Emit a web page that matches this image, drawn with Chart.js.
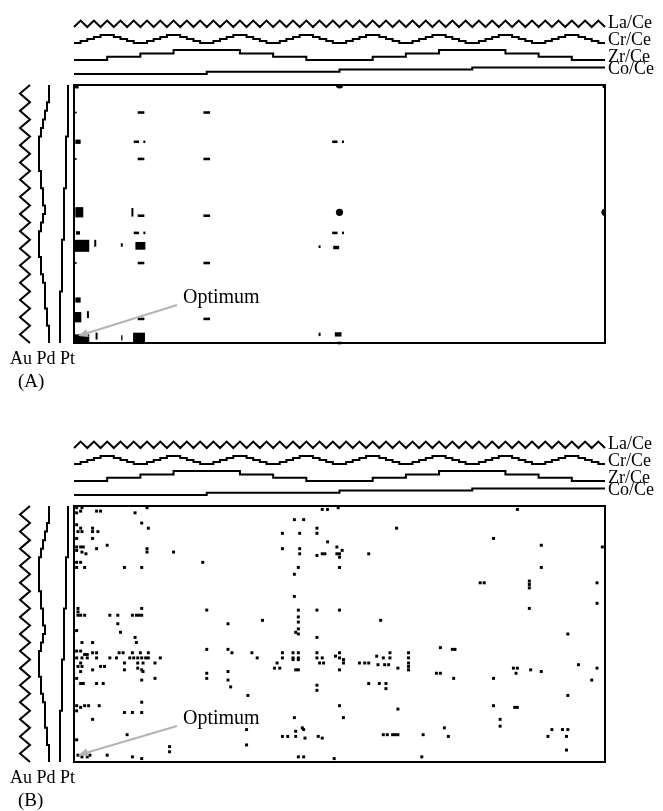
<!DOCTYPE html>
<html>
<head>
<meta charset="utf-8">
<script src="https://cdn.jsdelivr.net/npm/chart.js@4/dist/chart.umd.min.js"></script>
<style>
  body { margin: 0; background: #fff; }
  #wrap { position: relative; width: 663px; height: 811px; }
  canvas { position: absolute; left: 0; }
</style>
</head>
<body>
<div id="wrap">
  <canvas id="panelA" width="663" height="421" style="top:0"></canvas>
  <canvas id="panelB" width="663" height="390" style="top:421px"></canvas>
</div>
<script>
// grid size: columns = Co x Zr x Cr x La, rows = Pt x Pd x Au
const NCOL = 400;
const NROW = 150;

// composition levels along the top (one value per block)
const coLevels = [0, 1, 2, 3];
const zrLevels = [0, 1, 2, 3, 3, 2, 1, 0, 0, 1, 2, 3, 3, 2, 1, 0];
const crLevels = '01234432100123443210012344321001234432100123443210012344321001234432100123443210'.split('').map(Number);
const laTurns = '040404040404040404040404040404040404040404040404040404040404040404040404040404040'.split('').map(Number);

// composition levels down the left side
const ptLevels = [4, 3, 2, 1, 0];
const pdLevels = [5, 5, 4, 3, 2, 1, 0, 0, 0, 0, 1, 1, 2, 2, 3, 2, 1, 0, 0, 0, 1, 1, 2, 3, 3, 3, 4, 4, 5, 5];
const auTurns = '4040404040404040404040404040404'.split('').map(Number);

// panel A: hits as [col, row, width in cols, height in rows]
const hitsA = [
  [2, 1, 3, 2], [1, 16, 2, 1], [50.5, 16, 5, 1.5], [100, 16, 5, 1.5],
  [3, 33, 4, 2.5], [47, 33, 4, 1.5], [53, 33, 1.5, 1.5],
  [1, 43, 2, 1], [50.5, 43, 5, 1.5], [100, 43, 5, 1.5],
  [4, 74, 6, 6], [44, 74, 1.5, 5], [50.5, 76, 5, 1.5], [100, 76, 5, 1.5],
  [3, 86, 3, 2], [47, 86, 4, 1.5], [53, 86, 1.5, 1.5],
  [6, 93.5, 11, 7], [16, 92, 1.5, 4], [36, 93, 1.5, 2], [50, 93.5, 7.5, 4.5], [185, 94, 1.5, 1.5],
  [1, 103.5, 2, 1], [50.5, 103.5, 5, 1.5], [100, 103.5, 5, 1.5],
  [3, 125, 4, 3], [3, 135, 5, 6], [10.5, 133.5, 1.5, 4], [50.5, 136, 5, 1.5], [100, 136, 5, 1.5],
  [6, 147.5, 11, 5], [17, 146, 1.5, 4], [36, 147, 1, 3], [49, 147, 9, 6], [185, 145, 1.5, 2],
  [196.5, 33, 4, 1.5], [202.6, 33, 1.5, 1.5], [196.5, 86, 4, 1.5], [202.6, 86, 1.5, 1.5],
  [197.5, 94.5, 4.5, 2], [199, 145, 5, 2.5], [200, 150, 3, 1.5], [399, 1, 1.5, 1.5]
];
// panel A: round spots [col, row]
const spotsA = [[200, 74], [400, 74], [200, 0]];

// panel B: hits [col, row]
const hitsB = [
  [2, 1], [2, 4], [6, 1], [5, 3], [17, 3], [20, 3], [46, 4], [55, 1], [51, 10], [56, 13],
  [2, 11], [5, 13], [3, 15], [6, 15], [2, 19], [14, 13], [14, 15], [18, 15], [14, 19],
  [2, 24], [5, 24], [7, 24], [2, 26], [6, 27], [9, 28], [17, 25], [25, 23], [55, 25], [55, 27], [75, 27],
  [2, 33], [5, 33], [8, 36], [2, 36], [38, 36], [51, 36], [97, 33],
  [157, 16], [166, 8], [173, 8], [170, 16], [183, 13], [183, 16],
  [157, 25], [170, 25], [170, 28], [183, 29], [187, 28], [189, 28], [191, 21],
  [169, 36], [166, 40], [166, 53], [187, 2], [191, 2],
  [3, 60], [3, 62], [3, 64], [5, 64], [8, 64], [51, 60],
  [27, 64], [33, 64], [44, 64], [47, 64], [49, 64], [51, 64], [33, 69],
  [100, 61], [116, 69], [142, 67],
  [169, 61], [169, 65], [169, 68], [169, 72], [169, 75], [167, 74], [183, 61],
  [35, 74], [2, 73], [46, 77], [183, 77], [14, 80], [6, 80], [47, 80],
  [2, 85], [5, 85], [8, 87], [10, 87], [14, 86], [17, 86], [2, 89], [6, 89], [10, 89], [17, 89], [5, 92],
  [27, 89], [32, 89], [34, 86], [37, 86],
  [42, 89], [45, 89], [48, 89], [51, 89], [54, 89], [56, 89],
  [44, 86], [50, 86], [56, 86], [38, 92], [48, 92], [52, 92], [65, 89], [61, 92],
  [3, 94], [6, 94], [5, 97], [14, 96], [20, 94], [23, 94],
  [38, 96], [48, 95], [51, 96], [52, 97],
  [100, 84], [116, 84], [119, 86], [134, 86], [138, 89],
  [157, 86], [157, 89], [165, 86], [169, 86], [165, 89], [169, 89], [165, 90], [169, 90],
  [183, 86], [183, 89], [187, 89],
  [153, 92], [151, 95], [155, 95], [167, 96], [169, 96], [185, 92], [188, 92],
  [100, 98], [100, 101], [116, 97], [116, 102], [118, 106],
  [2, 101], [5, 104], [7, 104], [17, 104], [22, 104], [51, 102], [61, 101],
  [183, 105], [183, 108], [131, 111],
  [2, 117], [5, 118], [8, 117], [11, 117], [19, 117], [51, 115], [38, 121], [44, 121], [51, 121], [2, 120],
  [14, 125], [40, 134], [166, 124],
  [157, 135], [161, 135], [167, 135], [167, 132], [172, 130], [173, 131], [174, 136], [184, 135], [187, 136],
  [130, 131], [130, 140], [2, 137], [72, 141],
  [3, 146], [6, 147], [10, 147], [12, 146], [25, 146], [44, 147], [51, 148], [72, 144],
  [199, 1], [334, 2], [243, 13], [316, 19], [352, 23], [398, 24],
  [198, 24], [198, 28], [200, 28], [202, 26], [200, 30], [222, 28], [200, 36],
  [306, 45], [309, 45], [343, 44], [343, 46], [343, 48], [394, 45], [352, 36],
  [343, 60], [394, 57], [200, 61], [231, 67], [372, 75],
  [197, 88], [200, 86], [200, 89], [203, 90], [203, 92], [200, 96],
  [215, 92], [219, 92], [222, 92],
  [228, 88], [233, 89], [238, 86], [238, 89], [229, 93], [234, 93], [237, 93], [244, 95],
  [252, 86], [252, 89], [252, 92], [252, 94], [252, 96],
  [276, 83], [285, 84], [287, 84], [273, 98], [276, 98], [286, 101], [316, 101],
  [331, 95], [334, 95], [333, 98], [344, 96], [352, 97], [380, 93], [394, 95], [390, 102], [372, 111],
  [222, 104], [230, 104], [235, 104], [235, 107],
  [200, 117], [203, 124], [244, 119], [316, 117], [332, 118], [334, 118],
  [321, 125], [321, 129], [279, 130], [282, 135],
  [233, 134], [236, 134], [240, 134], [242, 134], [244, 134], [263, 134],
  [360, 131], [357, 135], [368, 131], [372, 131], [371, 135], [371, 143],
  [169, 147], [173, 147], [196, 148], [262, 147]
];

const optimum = [3, 146];
const topNames = ['La/Ce', 'Cr/Ce', 'Zr/Ce', 'Co/Ce'];

// where the composition curves sit, in px from the plot box (base, px per level)
const TOP = { la: [-58, -1.6], cr: [-42, -2], zr: [-25, -3.3], co: [-11, -2.2] };
const SIDE = { au: [-54, 2.5], pd: [-35, 2], pt: [-14, 2] };
const TOP_LABEL_Y = [-62, -45, -28, -16];

// curve builders: one point per block start, plus the closing point
function topSteps(levels, [base, step]) {
  const w = NCOL / levels.length;
  const pts = levels.map((l, i) => ({ x: i * w, y: base + step * l }));
  pts.push({ x: NCOL, y: base + step * levels[levels.length - 1] });
  return pts;
}
function topZig(turns, [base, step]) {
  const w = NCOL / (turns.length - 1);
  return turns.map((l, i) => ({ x: i * w, y: base + step * l }));
}
function sideSteps(levels, [base, step]) {
  const h = NROW / levels.length;
  const pts = levels.map((l, i) => ({ x: base + step * l, y: i * h }));
  pts.push({ x: base + step * levels[levels.length - 1], y: NROW });
  return pts;
}
function sideZig(turns, [base, step]) {
  const h = NROW / (turns.length - 1);
  return turns.map((l, i) => ({ x: base + step * l, y: i * h }));
}

function curve(data, xAxisID, yAxisID, stepped) {
  return {
    data, xAxisID, yAxisID, stepped,
    showLine: true, borderColor: '#000', borderWidth: 2,
    pointRadius: 0, clip: false
  };
}

const colPx = c => c.chart.scales.x.width / NCOL;
const rowPx = c => c.chart.scales.y.height / NROW;

// labels, panel letter and the "Optimum" arrow
const annotate = {
  id: 'annotate',
  afterDraw(chart, args, opts) {
    const { ctx, chartArea: a, scales } = chart;
    ctx.save();
    ctx.fillStyle = '#000';
    ctx.textBaseline = 'middle';
    ctx.textAlign = 'left';
    ctx.font = '18px "Liberation Serif"';
    topNames.forEach((t, i) => {
      ctx.fillText(t, a.right + 3, scales.yd.getPixelForValue(TOP_LABEL_Y[i]));
    });
    ctx.fillText('Au Pd Pt', a.left - 64, a.bottom + 16);
    ctx.font = '19px "Liberation Serif"';
    ctx.fillText(opts.letter, a.left - 56, a.bottom + 39);
    ctx.font = '20px "Liberation Serif"';
    ctx.fillText('Optimum', a.left + 109, a.top + 213);

    // arrow to the best composition
    const x0 = a.left + 103, y0 = a.top + 220;
    const x1 = scales.x.getPixelForValue(optimum[0]);
    const y1 = scales.y.getPixelForValue(optimum[1]);
    const ang = Math.atan2(y1 - y0, x1 - x0);
    ctx.strokeStyle = '#b4b4b4';
    ctx.fillStyle = '#b4b4b4';
    ctx.lineWidth = 2;
    ctx.beginPath();
    ctx.moveTo(x0, y0);
    ctx.lineTo(x1 - 6 * Math.cos(ang), y1 - 6 * Math.sin(ang));
    ctx.stroke();
    ctx.beginPath();
    ctx.moveTo(x1, y1);
    ctx.lineTo(x1 - 10 * Math.cos(ang) + 4 * Math.sin(ang), y1 - 10 * Math.sin(ang) - 4 * Math.cos(ang));
    ctx.lineTo(x1 - 10 * Math.cos(ang) - 4 * Math.sin(ang), y1 - 10 * Math.sin(ang) + 4 * Math.cos(ang));
    ctx.closePath();
    ctx.fill();
    ctx.restore();
  }
};

function boxAxis(position, min, max, reverse) {
  return {
    type: 'linear', position, min, max, reverse,
    ticks: { display: false },
    grid: { display: false, drawTicks: false },
    border: { display: true, width: 2, color: '#000' }
  };
}

function makePanel(id, letter, padding, areaH, hitSets) {
  const datasets = [
    curve(topZig(laTurns, TOP.la), 'x', 'yd', false),
    curve(topSteps(crLevels, TOP.cr), 'x', 'yd', true),
    curve(topSteps(zrLevels, TOP.zr), 'x', 'yd', true),
    curve(topSteps(coLevels, TOP.co), 'x', 'yd', true),
    curve(sideZig(auTurns, SIDE.au), 'xd', 'y', false),
    curve(sideSteps(pdLevels, SIDE.pd), 'xd', 'y', 'after'),
    curve(sideSteps(ptLevels, SIDE.pt), 'xd', 'y', 'after'),
    ...hitSets
  ];
  return new Chart(document.getElementById(id), {
    type: 'scatter',
    data: { datasets },
    options: {
      responsive: false,
      animation: false,
      devicePixelRatio: 1,
      events: [],
      layout: { padding },
      plugins: { legend: { display: false }, tooltip: { enabled: false }, annotate: { letter } },
      scales: {
        x: boxAxis('bottom', 0, NCOL, false),
        y: boxAxis('left', 0, NROW, true),
        x2: boxAxis('top', 0, NCOL, false),
        y2: boxAxis('right', 0, NROW, true),
        xd: { type: 'linear', display: false, min: 0, max: 531 },
        yd: { type: 'linear', display: false, min: 0, max: areaH, reverse: true }
      }
    },
    plugins: [annotate]
  });
}

// panel A: block-shaped hits and round spots
makePanel('panelA', '(A)', { left: 74, right: 58, top: 85, bottom: 78 }, 258, [
  {
    data: hitsA.map(([x, y, w, h]) => ({ x, y, w, h })),
    pointStyle: 'line', pointRotation: 0,
    pointRadius: c => (c.raw ? colPx(c) * c.raw.w / 2 : 0),
    pointBorderWidth: c => (c.raw ? rowPx(c) * c.raw.h : 0),
    pointBorderColor: '#000', pointBackgroundColor: '#000',
    clip: false
  },
  {
    data: spotsA.map(([x, y]) => ({ x, y })),
    pointStyle: 'circle', pointRadius: 3.6, pointBorderWidth: 0,
    pointBackgroundColor: '#000', clip: 0
  }
]);

// panel B: single-cell hits
makePanel('panelB', '(B)', { left: 74, right: 58, top: 85, bottom: 49 }, 256, [
  {
    data: hitsB.map(([x, y]) => ({ x, y })),
    pointStyle: 'rect', pointRadius: 2.1, pointBorderWidth: 0,
    pointBackgroundColor: '#000', clip: false
  }
]);
</script>
</body>
</html>
